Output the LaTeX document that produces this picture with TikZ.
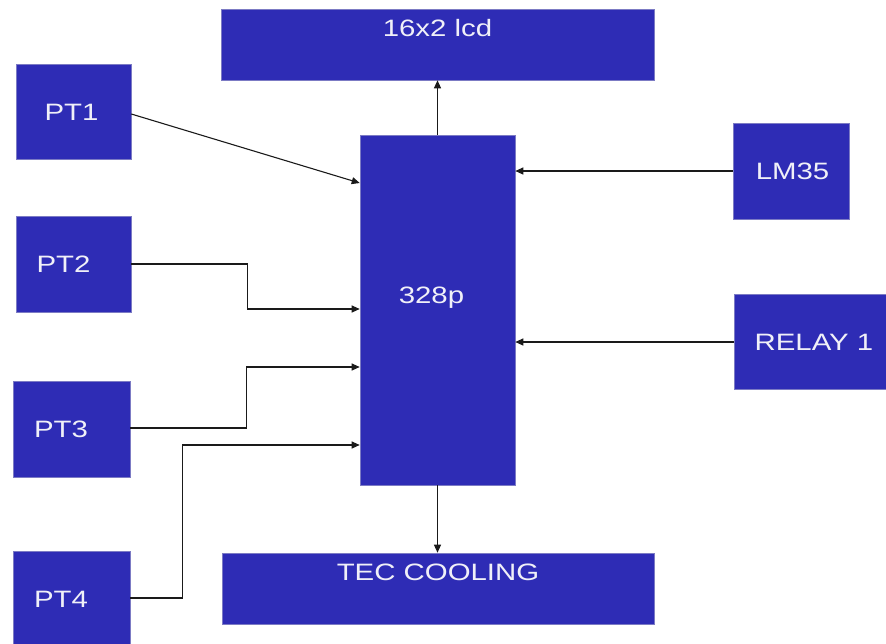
\documentclass[tikz,border=0pt]{standalone}
\usepackage{fontspec}
\setmainfont[FakeStretch=1.24]{Liberation Sans}
\usetikzlibrary{arrows.meta,calc}
\definecolor{boxblue}{HTML}{2E2CB5}
\definecolor{boxedge}{HTML}{7C7BC4}
\definecolor{txtwhite}{HTML}{F0F0F8}
\definecolor{linegray}{HTML}{1A1A1A}
\tikzset{
  blk/.style={rectangle, fill=boxblue, draw=boxedge, line width=0.6pt, inner sep=0pt,
    text=txtwhite, font=\fontsize{23.7}{28}\selectfont, text height=17pt, text depth=0pt},
  toptext/.style={text height=17pt, text depth=34pt},
  conn/.style={draw=linegray, line width=1.1pt, -{Triangle[length=8pt,width=7pt]}}
}
\begin{document}
\begin{tikzpicture}[x=1pt,y=-1pt]
\useasboundingbox (0,0) rectangle (886,643);
\node[blk, toptext, minimum width=433pt, minimum height=71pt] (lcd) at (437.5,44.5) {16x2 lcd};
\node[blk, minimum width=115pt, minimum height=95pt] (pt1) at (73.5,111.5) {PT1\hspace*{4pt}};
\node[blk, minimum width=115pt, minimum height=96pt] (pt2) at (73.5,264) {PT2\hspace*{20pt}};
\node[blk, minimum width=117pt, minimum height=96pt] (pt3) at (71.5,429) {PT3\hspace*{21pt}};
\node[blk, minimum width=117pt, minimum height=95pt] (pt4) at (71.5,598.5) {PT4\hspace*{21pt}};
\node[blk, text height=17pt, text depth=31pt, minimum width=155pt, minimum height=350pt] (mcu) at (437.5,310) {328p\hspace*{12pt}};
\node[blk, minimum width=116pt, minimum height=96pt] (lm35) at (791,171) {\hspace*{3pt}LM35};
\node[blk, minimum width=152pt, minimum height=95pt] (relay) at (810,342) {\hspace*{8pt}RELAY 1};
\node[blk, toptext, minimum width=432pt, minimum height=71pt] (tec) at (438,588.5) {TEC COOLING};

\draw[conn] ([yshift=-2.5pt]pt1.east) -- ([yshift=127pt]mcu.west);
\draw[conn] (pt2.east) -- ++(116,0) |- ([yshift=1pt]mcu.west);
\draw[conn] ([yshift=1pt]pt3.east) -- ++(116,0) |- ([yshift=-57pt]mcu.west);
\draw[conn] ([yshift=0.5pt]pt4.east) -- ++(52,0) |- ([yshift=-135pt]mcu.west);
\draw[conn] (lm35.west) -- (mcu.east |- lm35.west);
\draw[conn] (relay.west) -- (mcu.east |- relay.west);
\draw[conn] (mcu.north) -- (lcd.south);
\draw[conn] (mcu.south) -- (mcu.south |- tec.north);
\end{tikzpicture}
\end{document}
